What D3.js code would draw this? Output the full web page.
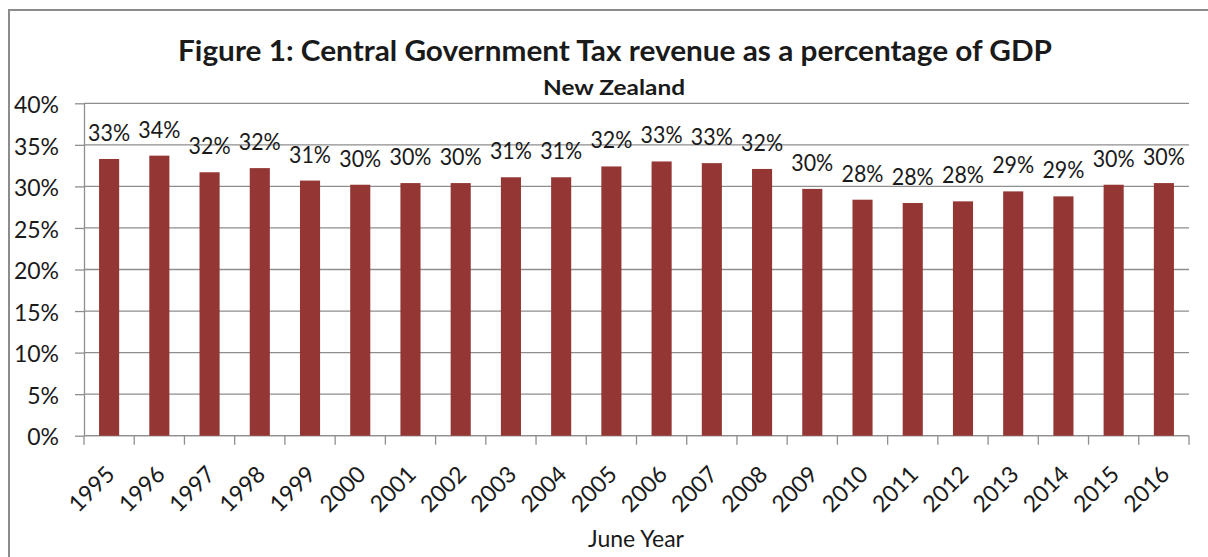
<!DOCTYPE html>
<html>
<head>
<meta charset="utf-8">
<script src="https://cdn.jsdelivr.net/npm/d3@7"></script>
<style>
  html, body { margin: 0; padding: 0; background: #fff; }
  svg { display: block; }
  text { font-family: Lato, "Open Sans", "DejaVu Sans", sans-serif; fill: #1a1a1a; }
</style>
</head>
<body>
<svg id="chart" width="1208" height="557"></svg>
<script>
// Fiscal years (June year) and central government tax revenue, % of GDP
const years = ["1995","1996","1997","1998","1999","2000","2001","2002","2003","2004","2005",
               "2006","2007","2008","2009","2010","2011","2012","2013","2014","2015","2016"];
const taxPctGdp = [33.3, 33.7, 31.7, 32.2, 30.7, 30.2, 30.4, 30.4, 31.1, 31.1, 32.4,
                   33.0, 32.8, 32.1, 29.7, 28.4, 28.0, 28.2, 29.4, 28.8, 30.2, 30.4];
const yTicks = [0, 5, 10, 15, 20, 25, 30, 35, 40];

const titleText = "Figure 1: Central Government Tax revenue as a percentage of GDP";
const subtitleText = "New Zealand";
const xAxisTitle = "June Year";

const svg = d3.select("#chart");
const W = 1208, H = 557;
const plot = { left: 84, right: 1189, top: 103.3, bottom: 435.7 };
const FS = 23;

// outer chart frame (only top and left edges fall inside the page)
svg.append("rect")
  .attr("x", 9).attr("y", 10)
  .attr("width", W + 20).attr("height", H + 20)
  .attr("fill", "#fff")
  .attr("stroke", "#8c8c8c").attr("stroke-width", 2);

const x = d3.scaleBand().domain(years)
  .range([plot.left, plot.right])
  .paddingInner(0.6).paddingOuter(0.3);
const y = d3.scaleLinear().domain([0, 40]).range([plot.bottom, plot.top]);
const pct = d3.format(".0%");

// horizontal gridlines
svg.append("g").selectAll("line").data(yTicks).join("line")
  .attr("x1", plot.left).attr("x2", plot.right)
  .attr("y1", d => y(d)).attr("y2", d => y(d))
  .attr("stroke", "#8e8e8e").attr("stroke-width", 1.3);

// y axis
const yAxis = svg.append("g")
  .attr("transform", `translate(${plot.left},0)`)
  .call(d3.axisLeft(y).tickValues(yTicks).tickSize(9).tickSizeOuter(0).tickPadding(16)
        .tickFormat(d => d + "%"));
yAxis.select(".domain").attr("stroke", "#8e8e8e").attr("stroke-width", 1.3);
yAxis.selectAll(".tick line").attr("stroke", "#8e8e8e").attr("stroke-width", 1.3);
yAxis.selectAll(".tick text")
  .attr("font-size", FS).attr("dy", "0.4em").attr("fill", "#1a1a1a")
  .style("font-family", "Lato, 'Open Sans', sans-serif");

// x axis baseline with tick marks at category boundaries
const step = x.step();
const boundaries = d3.range(years.length + 1).map(i => plot.left + i * step);
svg.append("line")
  .attr("x1", plot.left).attr("x2", plot.right)
  .attr("y1", y(0)).attr("y2", y(0))
  .attr("stroke", "#8e8e8e").attr("stroke-width", 1.3);
svg.append("g").selectAll("line").data(boundaries).join("line")
  .attr("x1", d => d).attr("x2", d => d)
  .attr("y1", y(0)).attr("y2", y(0) + 9)
  .attr("stroke", "#8e8e8e").attr("stroke-width", 1.3);

// rotated year labels
svg.append("g").selectAll("text").data(years).join("text")
  .attr("transform", d => `translate(${x(d) + x.bandwidth() / 2 + 7},${y(0) + 40}) rotate(-45)`)
  .attr("text-anchor", "end")
  .attr("font-size", FS)
  .text(d => d);

// bars
svg.append("g").selectAll("rect").data(taxPctGdp).join("rect")
  .attr("x", (d, i) => x(years[i]))
  .attr("width", x.bandwidth())
  .attr("y", d => y(d))
  .attr("height", d => y(0) - y(d))
  .attr("fill", "#943634");

// value labels above bars (slightly condensed so neighbours keep a gap)
svg.append("g").selectAll("text").data(taxPctGdp).join("text")
  .attr("x", (d, i) => x(years[i]) + x.bandwidth() / 2)
  .attr("y", d => y(d) - 18)
  .attr("text-anchor", "middle")
  .attr("font-size", FS)
  .attr("textLength", 42).attr("lengthAdjust", "spacingAndGlyphs")
  .text(d => pct(d / 100));

// titles
svg.append("text")
  .attr("x", 615).attr("y", 61)
  .attr("text-anchor", "middle")
  .attr("font-size", 29).attr("font-weight", "bold")
  .attr("textLength", 874).attr("lengthAdjust", "spacingAndGlyphs")
  .text(titleText);
svg.append("text")
  .attr("x", 614).attr("y", 95)
  .attr("text-anchor", "middle")
  .attr("font-size", 20).attr("font-weight", "bold")
  .attr("textLength", 142).attr("lengthAdjust", "spacingAndGlyphs")
  .text(subtitleText);
svg.append("text")
  .attr("x", 636).attr("y", 547)
  .attr("text-anchor", "middle")
  .attr("font-size", FS)
  .text(xAxisTitle);
</script>
</body>
</html>
